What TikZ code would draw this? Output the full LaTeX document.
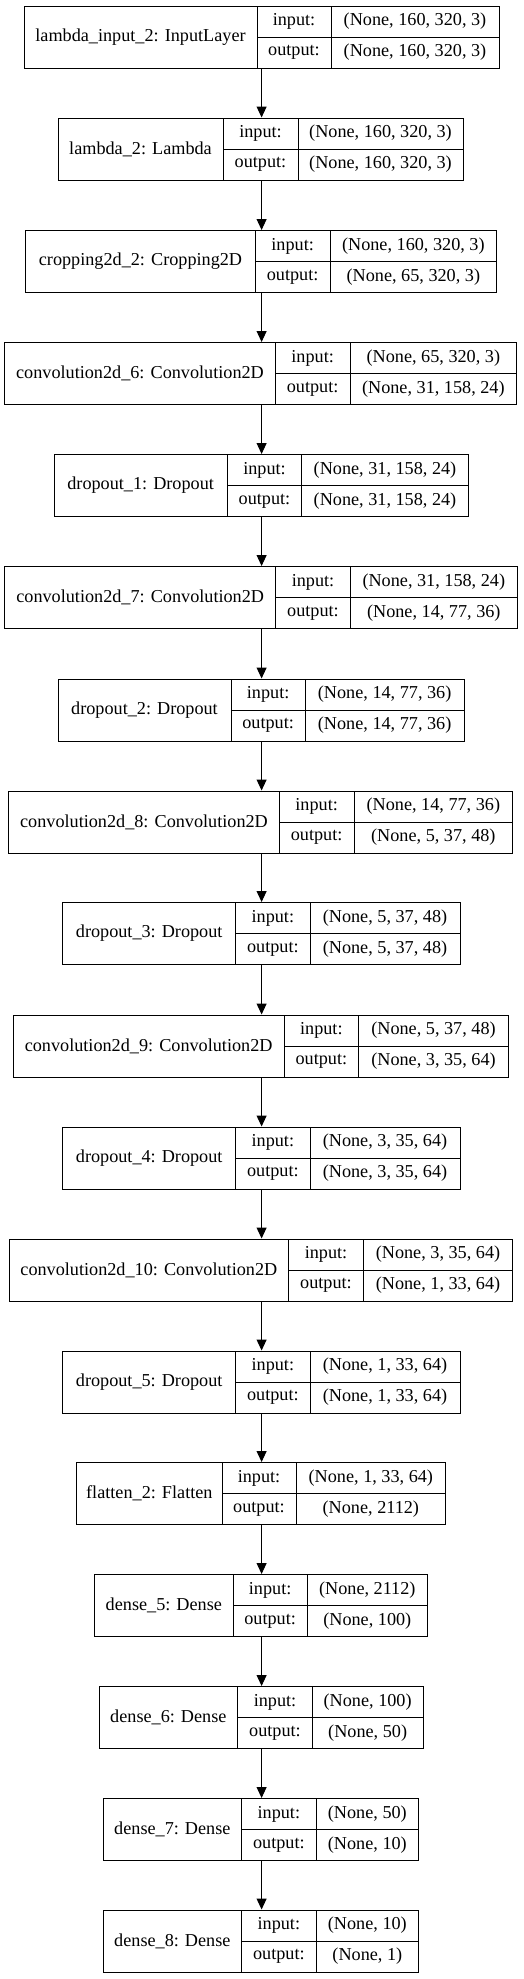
\documentclass[tikz,border=0pt]{standalone}
\usepackage{fontspec}
\setmainfont{Liberation Serif}
\usetikzlibrary{arrows.meta}
\tikzset{
  layer/.style={draw=black, line width=1pt, minimum height=62pt, inner sep=0pt, fill=white},
  cellline/.style={draw=black, line width=1pt},
  txt/.style={inner sep=0pt, font=\fontsize{18.2}{21}\selectfont, anchor=center},
  arr/.style={draw=black, line width=1pt, -{Triangle[length=11pt,width=10pt]}}
}
% #1 id, #2 top, #3 left, #4 d1, #5 d2, #6 right, #7 name, #8 input, #9 output
\newcommand\layerbox[9]{%
  \node[layer, minimum width={(#6-#3)*1pt}] (#1) at ({(#3+#6)/2},{#2+31}) {};
  \draw[cellline] (#4,#2) -- (#4,{#2+62});
  \draw[cellline] (#5,#2) -- (#5,{#2+62});
  \draw[cellline] (#4,{#2+31}) -- (#6,{#2+31});
  \node[txt] (#1n) at ({(#3+#4)/2},{#2+31}) {#7};
  \node[txt] (#1i) at ({(#4+#5)/2},{#2+15.5}) {input:};
  \node[txt] (#1o) at ({(#4+#5)/2},{#2+46.5}) {output:};
  \node[txt] (#1a) at ({(#5+#6)/2},{#2+15.5}) {#8};
  \node[txt] (#1b) at ({(#5+#6)/2},{#2+46.5}) {#9};
}
\begin{document}
\begin{tikzpicture}[x=1pt,y=-1pt]
\fill[white] (0,0) rectangle (523,1979);
\useasboundingbox (0,0) rectangle (523,1979);
\coordinate (ax) at (261.6,0);
\layerbox{L1}{6}{24}{257}{331}{499}{lambda\_input\_2: InputLayer}{(None, 160, 320, 3)}{(None, 160, 320, 3)}
\layerbox{L2}{118}{58}{223}{298}{463}{lambda\_2: Lambda}{(None, 160, 320, 3)}{(None, 160, 320, 3)}
\layerbox{L3}{230.5}{25.7}{255.3}{330}{496.7}{cropping2d\_2: Cropping2D}{(None, 160, 320, 3)}{(None, 65, 320, 3)}
\layerbox{L4}{342.5}{4.7}{275.3}{350}{516.7}{convolution2d\_6: Convolution2D}{(None, 65, 320, 3)}{(None, 31, 158, 24)}
\layerbox{L5}{454.5}{54}{227.3}{301.7}{468.3}{dropout\_1: Dropout}{(None, 31, 158, 24)}{(None, 31, 158, 24)}
\layerbox{L6}{566.5}{4.7}{275.7}{350.3}{517.3}{convolution2d\_7: Convolution2D}{(None, 31, 158, 24)}{(None, 14, 77, 36)}
\layerbox{L7}{679}{58}{231}{305.3}{464}{dropout\_2: Dropout}{(None, 14, 77, 36)}{(None, 14, 77, 36)}
\layerbox{L8}{791}{8.7}{279.3}{354}{512.7}{convolution2d\_8: Convolution2D}{(None, 14, 77, 36)}{(None, 5, 37, 48)}
\layerbox{L9}{902.5}{62.7}{235.7}{310}{460}{dropout\_3: Dropout}{(None, 5, 37, 48)}{(None, 5, 37, 48)}
\layerbox{L10}{1015}{13.3}{284}{358.7}{508.3}{convolution2d\_9: Convolution2D}{(None, 5, 37, 48)}{(None, 3, 35, 64)}
\layerbox{L11}{1127}{62.7}{235.7}{310}{460}{dropout\_4: Dropout}{(None, 3, 35, 64)}{(None, 3, 35, 64)}
\layerbox{L12}{1239}{9}{288.7}{363.3}{512.7}{convolution2d\_10: Convolution2D}{(None, 3, 35, 64)}{(None, 1, 33, 64)}
\layerbox{L13}{1351}{62.7}{235.7}{310}{460}{dropout\_5: Dropout}{(None, 1, 33, 64)}{(None, 1, 33, 64)}
\layerbox{L14}{1462.5}{76.7}{222}{296}{445.7}{flatten\_2: Flatten}{(None, 1, 33, 64)}{(None, 2112)}
\layerbox{L15}{1574.5}{94.7}{233}{307.3}{427.3}{dense\_5: Dense}{(None, 2112)}{(None, 100)}
\layerbox{L16}{1686.5}{99}{237.7}{312.3}{423}{dense\_6: Dense}{(None, 100)}{(None, 50)}
\layerbox{L17}{1798.5}{103}{241.7}{316}{418.7}{dense\_7: Dense}{(None, 50)}{(None, 10)}
\layerbox{L18}{1910}{103}{241.7}{316}{418.7}{dense\_8: Dense}{(None, 10)}{(None, 1)}
\foreach \a/\b in {L1/L2,L2/L3,L3/L4,L4/L5,L5/L6,L6/L7,L7/L8,L8/L9,L9/L10,L10/L11,L11/L12,L12/L13,L13/L14,L14/L15,L15/L16,L16/L17,L17/L18}
  \draw[arr] (ax |- \a.south) -- (ax |- \b.north);
\end{tikzpicture}
\end{document}
